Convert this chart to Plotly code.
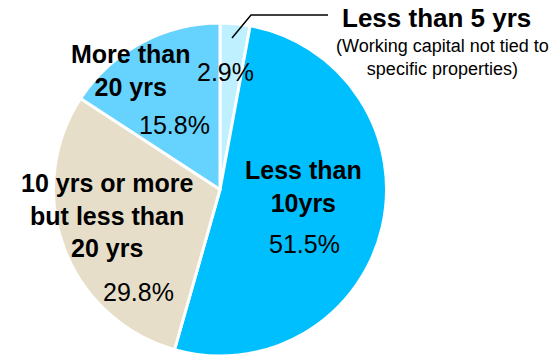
import plotly.graph_objects as go

# ---- data ----
categories = ["Less than 5 yrs", "Less than<br>10yrs", "10 yrs or more<br>but less than<br>20 yrs", "More than<br>20 yrs"]
shares = [2.9, 51.5, 29.8, 15.8]
note = "(Working capital not tied to<br>specific properties)"

# ---- styling / layout ----
colors = ["#BFF0FF", "#00BFFF", "#E6DEC8", "#66D3FF"]
W, H = 556, 356
cx, cy, r = 220, 190, 167

# label positions (pixels, center of text block)
label_pos = [(436, 18), (303, 186), (107, 215), (130, 70)]
pct_pos = [(225, 72), (304, 244), (138, 292), (174, 125)]

fig = go.Figure(go.Pie(
    values=shares,
    labels=categories,
    marker=dict(colors=colors, line=dict(color="white", width=3)),
    sort=False,
    direction="clockwise",
    rotation=0,
    textinfo="none",
    hoverinfo="none",
    showlegend=False,
    domain=dict(x=[(cx - r) / W, (cx + r) / W], y=[max(0, (H - cy - r) / H), (H - cy + r) / H]),
))

FONT = "Liberation Sans, Arial, sans-serif"

def px(x, y):
    return x / W, 1 - y / H

ann = []
for i, (lab, (x, y)) in enumerate(zip(categories, label_pos)):
    ax, ay = px(x, y)
    ann.append(dict(x=ax, y=ay, xref="paper", yref="paper", text="<b>" + lab + "</b>",
                    showarrow=False, xanchor="center", yanchor="middle", align="center",
                    font=dict(family=FONT, size=26 if i == 0 else 25, color="black")))
for v, (x, y) in zip(shares, pct_pos):
    ax, ay = px(x, y)
    ann.append(dict(x=ax, y=ay, xref="paper", yref="paper", text=f"{v}%",
                    showarrow=False, xanchor="center", yanchor="middle",
                    font=dict(family=FONT, size=25, color="black")))
nx, ny = px(442, 57)
ann.append(dict(x=nx, y=ny, xref="paper", yref="paper", text=note, showarrow=False,
                xanchor="center", yanchor="middle", align="center",
                font=dict(family=FONT, size=18, color="black")))

# leader line for the small slice
p1 = px(232, 38); p2 = px(251, 15); p3 = px(328, 15)
fig.add_shape(type="path", xref="paper", yref="paper",
              path=f"M {p1[0]} {p1[1]} L {p2[0]} {p2[1]} L {p3[0]} {p3[1]}",
              line=dict(color="black", width=1.5))

fig.update_layout(width=W, height=H, autosize=False,
                  margin=dict(l=0, r=0, t=0, b=0),
                  paper_bgcolor="white", plot_bgcolor="white",
                  annotations=ann)

fig.write_html("out.html")
